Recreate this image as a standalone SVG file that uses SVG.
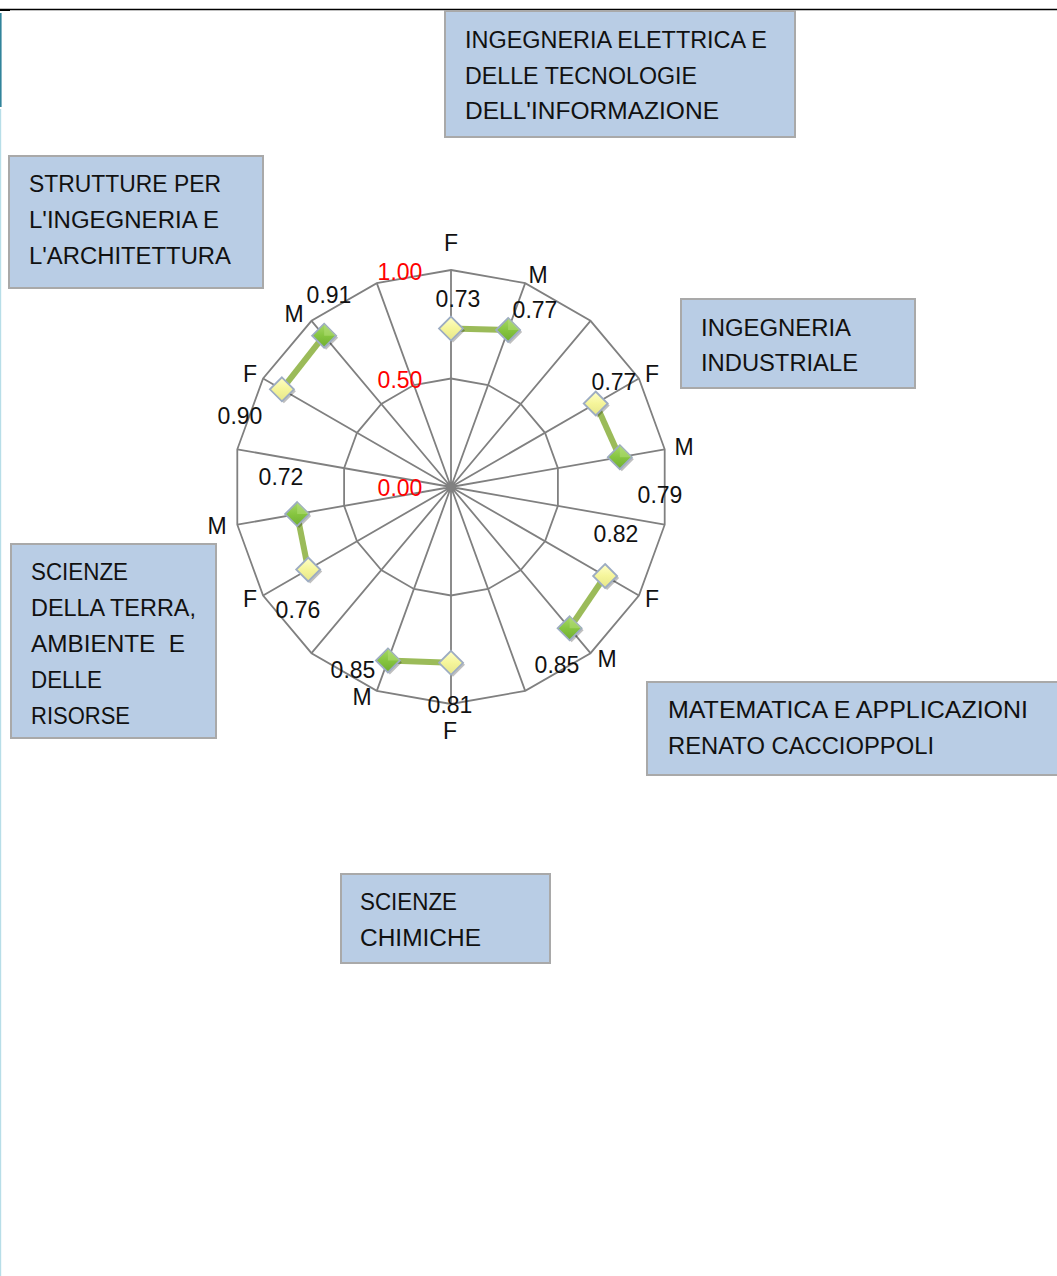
<svg xmlns="http://www.w3.org/2000/svg" width="1057" height="1276" viewBox="0 0 1057 1276">
<style>
.box{fill:#B9CDE5;stroke:#A9A9A9;stroke-width:2}
.bt{font-family:"Liberation Sans",Arial,sans-serif;font-size:23.5px;fill:#111}
.lb{font-family:"Liberation Sans",Arial,sans-serif;font-size:23px;fill:#111;text-anchor:middle}
.ax{font-family:"Liberation Sans",Arial,sans-serif;font-size:23px;fill:#FF0000;text-anchor:middle}
.grid{fill:none;stroke:#808080;stroke-width:1.8;stroke-linejoin:miter}
.data{fill:none;stroke:#9BBB59;stroke-width:6;stroke-linecap:butt}
</style>
<defs>
<linearGradient id="gF" x1="0" y1="0" x2="0" y2="1">
<stop offset="0" stop-color="#FFFFC8"/><stop offset="0.5" stop-color="#F5F59A"/><stop offset="1" stop-color="#E6E68A"/>
</linearGradient>
<linearGradient id="gM" x1="0" y1="0" x2="0" y2="1">
<stop offset="0" stop-color="#A8D86A"/><stop offset="0.5" stop-color="#86C540"/><stop offset="1" stop-color="#6FAE30"/>
</linearGradient>
<g id="mF">
<path d="M2,-10 L14,2 L2,14 L-10,2Z" fill="#000" opacity="0.25"/>
<path d="M0,-12 L12,0 L0,12 L-12,0Z" fill="url(#gF)" stroke="#9DACC2" stroke-width="1.8"/>
</g>
<g id="mM">
<path d="M2,-10 L14,2 L2,14 L-10,2Z" fill="#000" opacity="0.25"/>
<path d="M0,-12 L12,0 L0,12 L-12,0Z" fill="url(#gM)" stroke="#9DACC2" stroke-width="1.8"/>
<path d="M0,-12 L12,0 L0,0Z" fill="#B5E07A" opacity="0.5"/>
</g>
</defs>
<rect width="1057" height="1276" fill="#FFFFFF"/>
<g id="frame">
<line x1="0" y1="9.5" x2="1057" y2="9.5" stroke="#000" stroke-width="1.3"/>
<rect x="0" y="9" width="10" height="2" fill="#000"/>
<line x1="0.8" y1="13" x2="0.8" y2="107" stroke="#31849B" stroke-width="1.6"/>
<line x1="0.5" y1="109" x2="0.5" y2="1276" stroke="#B7DEE8" stroke-width="1.4"/>
</g>
<g id="chart">
<g id="grid">
<polygon class="grid" points="451,270 525.2,283.1 590.5,320.8 638.9,378.5 664.7,449.3 664.7,524.7 638.9,595.5 590.5,653.2 525.2,690.9 451,704 376.8,690.9 311.5,653.2 263.1,595.5 237.3,524.7 237.3,449.3 263.1,378.5 311.5,320.8 376.8,283.1"/>
<polygon class="grid" points="451,378.5 488.1,385 520.7,403.9 545,432.8 557.9,468.2 557.9,505.8 545,541.3 520.7,570.1 488.1,589 451,595.5 413.9,589 381.3,570.1 357,541.3 344.1,505.8 344.1,468.2 357,432.8 381.3,403.9 413.9,385"/>
<path class="grid" d="M451,487L451,270M451,487L525.2,283.1M451,487L590.5,320.8M451,487L638.9,378.5M451,487L664.7,449.3M451,487L664.7,524.7M451,487L638.9,595.5M451,487L590.5,653.2M451,487L525.2,690.9M451,487L451,704M451,487L376.8,690.9M451,487L311.5,653.2M451,487L263.1,595.5M451,487L237.3,524.7M451,487L237.3,449.3M451,487L263.1,378.5M451,487L311.5,320.8M451,487L376.8,283.1"/>
<circle cx="451" cy="487" r="4" fill="#808080"/>
</g>
<g id="axis-labels">
<text class="ax" x="400" y="280">1.00</text>
<text class="ax" x="400" y="388">0.50</text>
<text class="ax" x="400" y="496">0.00</text>
</g>
<g id="series">
<polyline class="data" points="451,328.6 508.1,330"/>
<polyline class="data" points="595.7,403.5 619.8,457.2"/>
<polyline class="data" points="605.1,576 569.6,628.3"/>
<polyline class="data" points="451,662.8 387.9,660.4"/>
<polyline class="data" points="308.2,569.5 297.1,514.1"/>
<polyline class="data" points="281.9,389.3 324.1,335.7"/>
<use href="#mF" x="451" y="328.6"/>
<use href="#mM" x="508.1" y="330"/>
<use href="#mF" x="595.7" y="403.5"/>
<use href="#mM" x="619.8" y="457.2"/>
<use href="#mF" x="605.1" y="576"/>
<use href="#mM" x="569.6" y="628.3"/>
<use href="#mF" x="451" y="662.8"/>
<use href="#mM" x="387.9" y="660.4"/>
<use href="#mF" x="308.2" y="569.5"/>
<use href="#mM" x="297.1" y="514.1"/>
<use href="#mF" x="281.9" y="389.3"/>
<use href="#mM" x="324.1" y="335.7"/>
</g>
<g id="labels">
<text class="lb" x="451" y="251">F</text>
<text class="lb" x="538" y="283">M</text>
<text class="lb" x="458" y="307">0.73</text>
<text class="lb" x="535" y="318">0.77</text>
<text class="lb" x="652" y="382">F</text>
<text class="lb" x="614" y="390">0.77</text>
<text class="lb" x="684" y="455">M</text>
<text class="lb" x="660" y="503">0.79</text>
<text class="lb" x="616" y="542">0.82</text>
<text class="lb" x="652" y="607">F</text>
<text class="lb" x="607" y="667">M</text>
<text class="lb" x="557" y="673">0.85</text>
<text class="lb" x="450" y="713">0.81</text>
<text class="lb" x="450" y="739">F</text>
<text class="lb" x="353" y="678">0.85</text>
<text class="lb" x="362" y="705">M</text>
<text class="lb" x="250" y="607">F</text>
<text class="lb" x="298" y="618">0.76</text>
<text class="lb" x="217" y="534">M</text>
<text class="lb" x="281" y="485">0.72</text>
<text class="lb" x="250" y="382">F</text>
<text class="lb" x="240" y="424">0.90</text>
<text class="lb" x="294" y="322">M</text>
<text class="lb" x="329" y="303">0.91</text>
</g>
</g>
<g id="node-elettrica">
<rect class="box" x="445" y="11" width="350" height="126"/>
<text class="bt" x="465" y="48" textLength="302" lengthAdjust="spacingAndGlyphs">INGEGNERIA ELETTRICA E</text>
<text class="bt" x="465" y="84" textLength="232" lengthAdjust="spacingAndGlyphs">DELLE TECNOLOGIE</text>
<text class="bt" x="465" y="119" textLength="254" lengthAdjust="spacingAndGlyphs">DELL'INFORMAZIONE</text>
</g>
<g id="node-strutture">
<rect class="box" x="9" y="156" width="254" height="132"/>
<text class="bt" x="29" y="192" textLength="192" lengthAdjust="spacingAndGlyphs">STRUTTURE PER</text>
<text class="bt" x="29" y="228" textLength="190" lengthAdjust="spacingAndGlyphs">L'INGEGNERIA E</text>
<text class="bt" x="29" y="264" textLength="202" lengthAdjust="spacingAndGlyphs">L'ARCHITETTURA</text>
</g>
<g id="node-industriale">
<rect class="box" x="681" y="299" width="234" height="89"/>
<text class="bt" x="701" y="336" textLength="150" lengthAdjust="spacingAndGlyphs">INGEGNERIA</text>
<text class="bt" x="701" y="371" textLength="157" lengthAdjust="spacingAndGlyphs">INDUSTRIALE</text>
</g>
<g id="node-terra">
<rect class="box" x="11" y="544" width="205" height="194"/>
<text class="bt" x="31" y="580" textLength="97" lengthAdjust="spacingAndGlyphs">SCIENZE</text>
<text class="bt" x="31" y="616" textLength="165" lengthAdjust="spacingAndGlyphs">DELLA TERRA,</text>
<text class="bt" x="31" y="652" textLength="154" lengthAdjust="spacingAndGlyphs" xml:space="preserve">AMBIENTE  E</text>
<text class="bt" x="31" y="688" textLength="71" lengthAdjust="spacingAndGlyphs">DELLE</text>
<text class="bt" x="31" y="724" textLength="99" lengthAdjust="spacingAndGlyphs">RISORSE</text>
</g>
<g id="node-matematica">
<rect class="box" x="647" y="682" width="412" height="93"/>
<text class="bt" x="668" y="718" textLength="360" lengthAdjust="spacingAndGlyphs">MATEMATICA E APPLICAZIONI</text>
<text class="bt" x="668" y="754" textLength="266" lengthAdjust="spacingAndGlyphs">RENATO CACCIOPPOLI</text>
</g>
<g id="node-chimiche">
<rect class="box" x="341" y="874" width="209" height="89"/>
<text class="bt" x="360" y="910" textLength="97" lengthAdjust="spacingAndGlyphs">SCIENZE</text>
<text class="bt" x="360" y="946" textLength="121" lengthAdjust="spacingAndGlyphs">CHIMICHE</text>
</g>
</svg>
